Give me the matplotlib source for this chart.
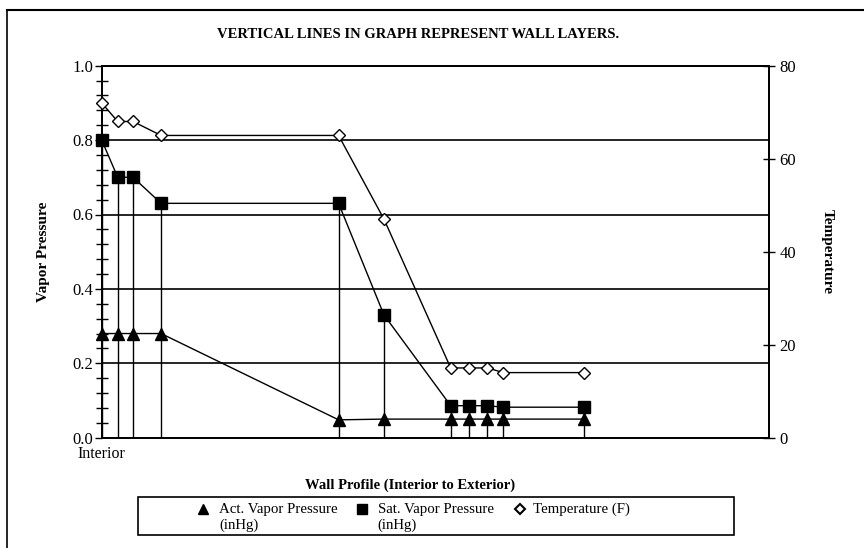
import matplotlib
matplotlib.use("Agg")
import matplotlib.pyplot as plt
from matplotlib.lines import Line2D
from matplotlib.patches import Rectangle

plt.rcParams['font.family'] = ['Liberation Serif', 'DejaVu Serif']

# Wall profile positions (interior -> exterior), arbitrary units 0..100
position = [0, 2.4, 4.7, 8.9, 35.5, 42.3, 52.3, 55.1, 57.8, 60.2, 72.3]
act_vp = [0.28, 0.28, 0.28, 0.28, 0.048, 0.05, 0.05, 0.05, 0.05, 0.05, 0.05]
sat_vp = [0.80, 0.70, 0.70, 0.63, 0.63, 0.33, 0.086, 0.086, 0.086, 0.082, 0.082]
temp_f = [72, 68, 68, 65, 65, 47, 15, 15, 15, 14, 14]

left_ticks = [0.0, 0.2, 0.4, 0.6, 0.8, 1.0]
left_labels = ['0.0', '0.2', '0.4', '0.6', '0.8', '1.0']
right_ticks = [0, 20, 40, 60, 80]
legend_labels = ['Act. Vapor Pressure\n(inHg)', 'Sat. Vapor Pressure\n(inHg)', 'Temperature (F)']

W, H = 864, 548
fig = plt.figure(figsize=(W / 100, H / 100), dpi=100)
ax = fig.add_axes([101.7 / W, 1 - 437.7 / H, (769 - 101.7) / W, (437.7 - 65.7) / H])
ax2 = ax.twinx()

ax.set_xlim(0, 100)
ax.set_ylim(0, 1.0)
ax2.set_ylim(0, 80)

# gridlines
for t in left_ticks[1:]:
    ax.axhline(t, color='black', lw=1.2, zorder=1)

# vertical lines (wall layers)
ax.vlines(position, 0, sat_vp, color='black', lw=1.0, zorder=2)

ax.plot(position, act_vp, color='black', lw=1.0, marker='^', markersize=8,
        markerfacecolor='black', markeredgecolor='black', zorder=4, clip_on=False)
ax.plot(position, sat_vp, color='black', lw=1.0, marker='s', markersize=8,
        markerfacecolor='black', markeredgecolor='black', zorder=4, clip_on=False)
ax2.plot(position, temp_f, color='black', lw=1.0, marker='D', markersize=6,
         markerfacecolor='white', markeredgecolor='black', markeredgewidth=1.0,
         zorder=4, clip_on=False)

for a in (ax, ax2):
    for s in a.spines.values():
        s.set_linewidth(1.3)
        s.set_color('black')

ax.set_yticks(left_ticks)
ax.set_yticklabels(left_labels)
ax.set_yticks([i * 0.04 for i in range(26)], minor=True)
ax.tick_params(axis='y', which='major', direction='out', length=5, width=1.0,
               labelsize=12, pad=1)
ax.tick_params(axis='y', which='minor', direction='inout', length=9, width=1.0)
ax.set_xticks([0])
ax.set_xticklabels(['Interior'])
ax.tick_params(axis='x', length=0, labelsize=11.5, pad=6)

ax2.set_yticks(right_ticks)
ax2.tick_params(axis='y', direction='inout', length=9, width=1.0, labelsize=12, pad=3)

ax.set_ylabel('Vapor Pressure', fontsize=11, fontweight='bold', labelpad=16)
ax2.set_ylabel('Temperature', fontsize=11, fontweight='bold', rotation=-90, labelpad=27)

fig.text(418 / W, 1 - 34 / H, 'VERTICAL LINES IN GRAPH REPRESENT WALL LAYERS.',
         ha='center', va='center', fontsize=10.5, fontweight='bold')
fig.text(410 / W, 1 - 485 / H, 'Wall Profile (Interior to Exterior)',
         ha='center', va='center', fontsize=10.5, fontweight='bold')

# figure border lines (top and left)
fig.add_artist(Line2D([7 / W, 1], [1 - 9.5 / H, 1 - 9.5 / H], color='black', lw=1.5,
                      transform=fig.transFigure))
fig.add_artist(Line2D([7 / W, 7 / W], [1 - 9.5 / H, 0], color='black', lw=1.2,
                      transform=fig.transFigure))

# legend box with entries
fig.add_artist(Rectangle((138 / W, 1 - 535 / H), (734 - 138) / W, (535 - 497) / H,
                         transform=fig.transFigure, fill=False, edgecolor='black', lw=1.2))
legend_markers = [
    dict(marker='^', markersize=7, markerfacecolor='black', markeredgecolor='black'),
    dict(marker='s', markersize=7, markerfacecolor='black', markeredgecolor='black'),
    dict(marker='D', markersize=5, markerfacecolor='white', markeredgecolor='black',
         markeredgewidth=1.5),
]
marker_x = [203, 362, 520]
text_x = [219, 377.5, 533]
for mk, mx, tx, lab in zip(legend_markers, marker_x, text_x, legend_labels):
    fig.add_artist(Line2D([mx / W], [1 - 509 / H], ls='none', transform=fig.transFigure, **mk))
    fig.text(tx / W, 1 - 502.5 / H, lab, ha='left', va='top', fontsize=10.7,
             linespacing=1.3)

fig.savefig('out.png', dpi=100)
